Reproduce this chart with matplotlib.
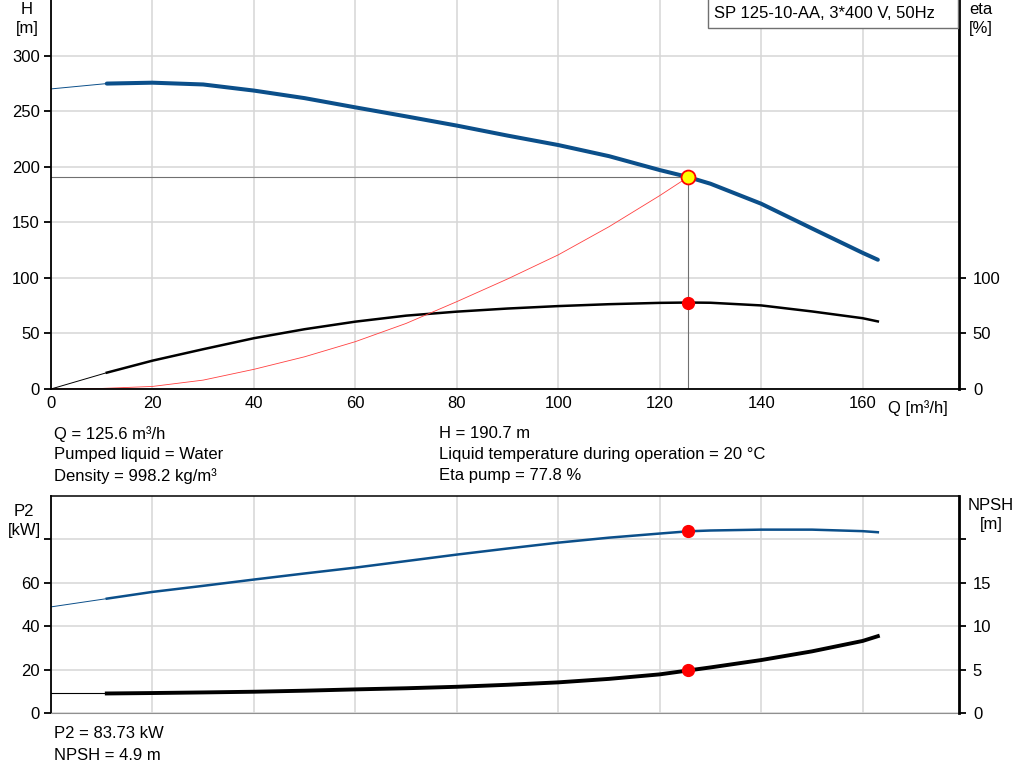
import matplotlib
matplotlib.use('Agg')
import matplotlib.pyplot as plt
from matplotlib.patches import Rectangle

plt.rcParams['font.family'] = ['Liberation Sans', 'DejaVu Sans']

# pump curve H(Q), thick part plus thin start
q_thin = [0, 11]
h_thin = [270, 274.8]
q_main = [11, 20, 30, 40, 50, 60, 70, 80, 90, 100, 110, 120, 125.6, 130,
          140, 150, 160, 163]
h_main = [274.8, 275.6, 274, 268.5, 261.7, 253.4, 245.3, 237, 228, 219.5,
          209.5, 197, 190.7, 184.7, 166.7, 144.5, 122.5, 116.3]

eta_thin = [0, 14.7]
eta_main = [14.7, 25.5, 35.8, 45.7, 53.8, 60.6, 66, 69.6, 72.4, 74.6, 76.3,
            77.5, 77.8, 77.6, 75.2, 69.8, 63.7, 60.8]

# system curve
q_sys = [0, 10, 20, 30, 40, 50, 60, 70, 80, 90, 100, 110, 120, 125.6]
h_sys = [0, 0.5, 2.3, 8, 17.7, 29, 42.6, 59, 78.6, 99, 120.7, 146, 174, 190.7]

# power and NPSH
p2_thin = [48.9, 52.7]
p2_main = [52.7, 55.8, 58.6, 61.5, 64.3, 67, 70, 73, 75.8, 78.5, 80.8, 82.7,
           83.73, 84.1, 84.5, 84.5, 83.8, 83.3]
npsh_thin = [2.25, 2.25]
npsh_main = [2.25, 2.3, 2.37, 2.45, 2.57, 2.72, 2.85, 3.02, 3.25, 3.53, 3.93,
             4.45, 4.9, 5.25, 6.1, 7.1, 8.3, 8.85]

q_op = 125.6
h_op = 190.7
eta_op = 77.8
p2_op = 83.73
npsh_op = 4.9

x_ticks = [0, 20, 40, 60, 80, 100, 120, 140, 160]
h_ticks = [0, 50, 100, 150, 200, 250, 300]
eta_ticks = [0, 50, 100]
p2_ticks = [0, 20, 40, 60, 80]
p2_labels = ['0', '20', '40', '60', '']
npsh_ticks = [0, 5, 10, 15, 20]
npsh_labels = ['0', '5', '10', '15', '']

info_left = ['Q = 125.6 m³/h', 'Pumped liquid = Water', 'Density = 998.2 kg/m³']
info_right = ['H = 190.7 m', 'Liquid temperature during operation = 20 °C', 'Eta pump = 77.8 %']
info_bottom = ['P2 = 83.73 kW', 'NPSH = 4.9 m']
title = 'SP 125-10-AA, 3*400 V, 50Hz'

blue = '#0b4f8a'
grid_c = '#d6d6d6'
fs = 12

fig = plt.figure(figsize=(10.24, 7.81), dpi=100)
W, H = 1024, 781


def fx(px):
    return px / W


def fy(py):
    return 1 - py / H


left, right = 51, 959
ax1 = fig.add_axes([fx(left), fy(389), fx(right - left), 389 / H])
ax2 = fig.add_axes([fx(left), fy(713), fx(right - left), (713 - 496) / H])


def style(ax, ylim, yticks, ylabels):
    ax.set_xlim(0, 179)
    ax.set_ylim(*ylim)
    ax.set_xticks(x_ticks)
    ax.set_yticks(yticks)
    ax.set_yticklabels(ylabels)
    ax.grid(True, color=grid_c, linewidth=1.1)
    ax.set_axisbelow(True)
    ax.tick_params(axis='x', length=0, labelsize=fs, pad=5)
    ax.tick_params(axis='y', length=5, width=1.3, labelsize=fs, pad=3)
    ax.spines['left'].set_linewidth(1.3)


def style_right(ax):
    ax.tick_params(axis='y', length=5, width=1.3, labelsize=fs, pad=5)
    for s in ['top', 'left', 'bottom']:
        ax.spines[s].set_visible(False)
    ax.spines['right'].set_linewidth(2)


# top panel
style(ax1, (0, 350), h_ticks, [str(t) for t in h_ticks])
ax1.spines['top'].set_visible(False)
ax1.spines['right'].set_visible(False)
ax1.spines['bottom'].set_linewidth(1.3)

ax1.plot(q_thin, h_thin, color=blue, lw=0.7)
ax1.plot(q_main, h_main, color=blue, lw=2.9, solid_capstyle='round',
         solid_joinstyle='round')
ax1.plot(q_thin, eta_thin, color='black', lw=0.7)
ax1.plot(q_main, eta_main, color='black', lw=1.8, solid_joinstyle='round')
ax1.plot(q_sys, h_sys, color='#ff4040', lw=0.6)
ax1.plot([0, q_op], [h_op, h_op], color='#707070', lw=0.8)
ax1.plot([q_op, q_op], [0, h_op], color='#707070', lw=0.8)
ax1.plot([q_op], [eta_op], 'o', color='#ff0000', ms=8.5)
ax1.plot([q_op], [h_op], 'o', mfc='#ffff00', mec='#ff0000', mew=1.3, ms=10)

eta1 = ax1.twinx()
eta1.set_ylim(0, 350)
eta1.set_yticks(eta_ticks)
style_right(eta1)

ax1.text(0.988, -0.05, 'Q [m³/h]', transform=ax1.transAxes, fontsize=fs,
         ha='right', va='center')

# bottom panel
style(ax2, (0, 100), p2_ticks, p2_labels)
ax2.set_xticklabels([])
ax2.spines['right'].set_visible(False)
ax2.spines['bottom'].set_color('#909090')
ax2.spines['top'].set_linewidth(1.1)

ax2.plot(q_thin, p2_thin, color=blue, lw=0.7)
ax2.plot(q_main, p2_main, color=blue, lw=1.8, solid_joinstyle='round')
ax2.plot([q_op], [p2_op], 'o', color='#ff0000', ms=8.5, zorder=5)

npsh_ax = ax2.twinx()
npsh_ax.set_ylim(0, 25)
npsh_ax.set_yticks(npsh_ticks)
npsh_ax.set_yticklabels(npsh_labels)
style_right(npsh_ax)
npsh_ax.plot(q_thin, npsh_thin, color='black', lw=0.8)
npsh_ax.plot(q_main, npsh_main, color='black', lw=2.8, solid_joinstyle='round')
npsh_ax.plot([q_op], [npsh_op], 'o', color='#ff0000', ms=8.5, zorder=5)

# axis titles
fig.text(fx(27), fy(10), 'H', fontsize=fs, ha='center', va='center')
fig.text(fx(27), fy(29), '[m]', fontsize=fs, ha='center', va='center')
fig.text(fx(981), fy(10), 'eta', fontsize=fs, ha='center', va='center')
fig.text(fx(981), fy(29), '[%]', fontsize=fs, ha='center', va='center')
fig.text(fx(24), fy(511), 'P2', fontsize=fs, ha='center', va='center')
fig.text(fx(24), fy(530), '[kW]', fontsize=fs, ha='center', va='center')
fig.text(fx(991), fy(505), 'NPSH', fontsize=fs, ha='center', va='center')
fig.text(fx(991), fy(524), '[m]', fontsize=fs, ha='center', va='center')

# info texts
for i, s in enumerate(info_left):
    fig.text(fx(54), fy(434 + 21 * i), s, fontsize=fs, va='center')
for i, s in enumerate(info_right):
    fig.text(fx(439), fy(434 + 21 * i), s, fontsize=fs, va='center')
for i, s in enumerate(info_bottom):
    fig.text(fx(54), fy(734 + 21 * i), s, fontsize=fs, va='center')

# title box
fig.patches.append(Rectangle((fx(708), fy(28)), fx(958 - 708), 28 / H + 0.01,
                             transform=fig.transFigure, facecolor='white',
                             edgecolor='#707070', lw=1, zorder=10))
fig.text(fx(714), fy(14), title, fontsize=fs, va='center', zorder=11)

fig.savefig('out.png', dpi=100)
